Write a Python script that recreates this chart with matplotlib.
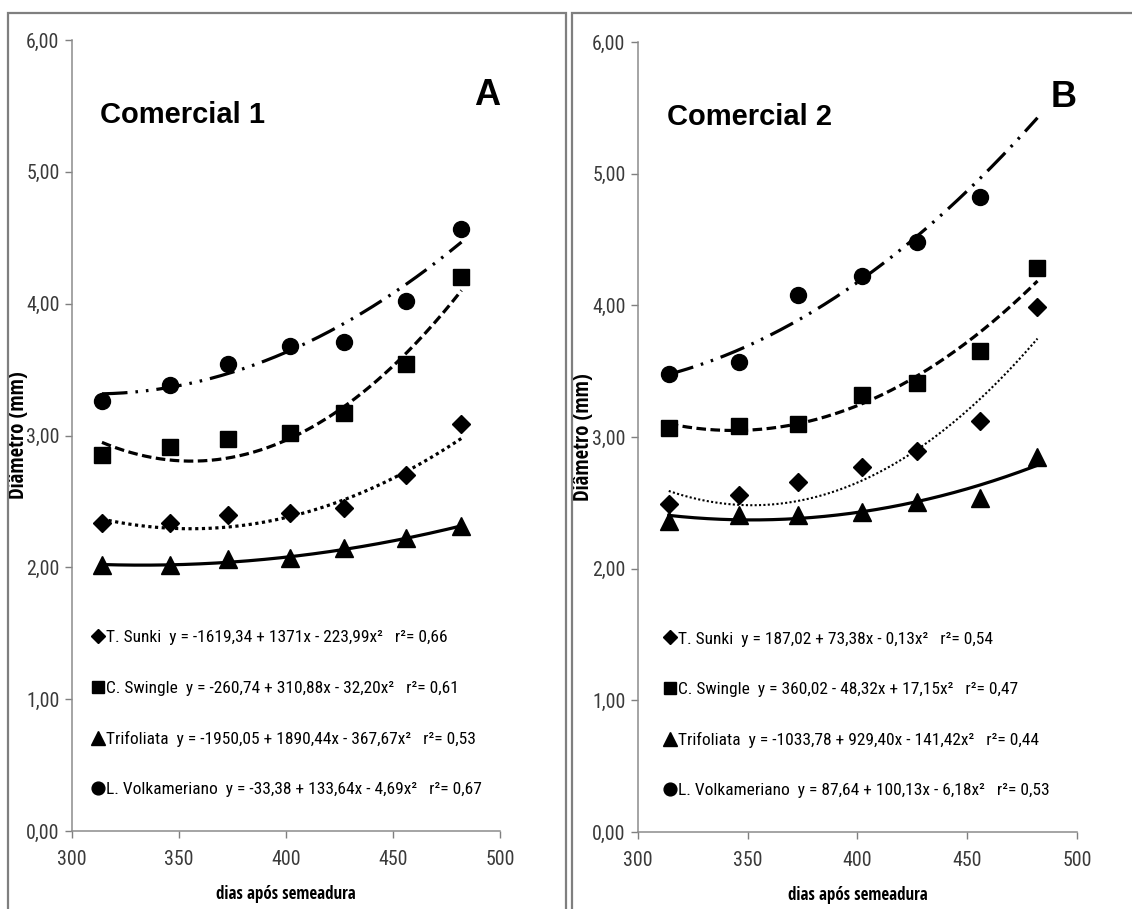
import numpy as np
import matplotlib.pyplot as plt
import matplotlib.font_manager as fm
from matplotlib.font_manager import FontProperties
from matplotlib.lines import Line2D
from matplotlib.patches import Rectangle

dias = [314, 346, 373, 402, 427, 456, 482]

# Comercial 1 (A)
sunki_a = [2.34, 2.34, 2.40, 2.41, 2.45, 2.70, 3.09]
swingle_a = [2.85, 2.91, 2.97, 3.02, 3.17, 3.54, 4.20]
trifol_a = [2.02, 2.02, 2.06, 2.07, 2.15, 2.22, 2.31]
volk_a = [3.26, 3.38, 3.54, 3.68, 3.71, 4.02, 4.57]
# linhas de tendência
t_sunki_a = [2.36, 2.30, 2.31, 2.40, 2.51, 2.69, 3.00]
t_swingle_a = [2.93, 2.84, 2.85, 2.95, 3.20, 3.64, 4.10]
t_trifol_a = [2.02, 2.02, 2.04, 2.08, 2.14, 2.21, 2.32]
t_volk_a = [3.32, 3.36, 3.47, 3.65, 3.84, 4.16, 4.46]

# Comercial 2 (B)
sunki_b = [2.49, 2.56, 2.66, 2.77, 2.89, 3.12, 3.99]
swingle_b = [3.07, 3.08, 3.10, 3.32, 3.41, 3.65, 4.28]
trifol_b = [2.36, 2.41, 2.41, 2.43, 2.51, 2.54, 2.85]
volk_b = [3.48, 3.57, 4.08, 4.22, 4.48, 4.82]
t_sunki_b = [2.57, 2.50, 2.53, 2.71, 2.86, 3.24, 3.79]
t_swingle_b = [3.10, 3.05, 3.10, 3.26, 3.46, 3.79, 4.19]
t_trifol_b = [2.40, 2.38, 2.38, 2.43, 2.51, 2.63, 2.79]
t_volk_b = [3.48, 3.66, 3.88, 4.20, 4.53, 4.97, 5.42]

leg_a = ["T. Sunki  y = -1619,34 + 1371x - 223,99x²   r²= 0,66",
         "C. Swingle  y = -260,74 + 310,88x - 32,20x²   r²= 0,61",
         "Trifoliata  y = -1950,05 + 1890,44x - 367,67x²   r²= 0,53",
         "L. Volkameriano  y = -33,38 + 133,64x - 4,69x²   r²= 0,67"]
leg_b = ["T. Sunki  y = 187,02 + 73,38x - 0,13x²   r²= 0,54",
         "C. Swingle  y = 360,02 - 48,32x + 17,15x²   r²= 0,47",
         "Trifoliata  y = -1033,78 + 929,40x - 141,42x²   r²= 0,44",
         "L. Volkameriano  y = 87,64 + 100,13x - 6,18x²   r²= 0,53"]
yticks_txt = ["0,00", "1,00", "2,00", "3,00", "4,00", "5,00", "6,00"]

marcadores = ['D', 's', '^', 'o']
tamanhos = [9.5, 11, 12.5, 11.5]
estilos = [(0, (1, 1.1)), (0, (3, 1.4)), '-', (0, (8, 2.5, 0.8, 2.5, 0.8, 2.5))]


def peso(f):
    if isinstance(f.weight, int):
        return f.weight
    return {'normal': 400, 'regular': 400, 'bold': 700}.get(f.weight, 400)


def fichier(candidatos, p):
    for cand in candidatos:
        for f in fm.fontManager.ttflist:
            if f.name == cand and peso(f) == p and f.style == 'normal':
                return f.fname
    return None


# fonte estreita parecida com a do Excel
f_reg = fichier(['Roboto Condensed', 'Asap Condensed', 'Sofia Sans Condensed', 'Saira SemiCondensed',
                 'Archivo Narrow', 'Liberation Sans Narrow'], 400)
f_bold = fichier(['Open Sans Condensed', 'Roboto Condensed', 'Asap Condensed', 'Saira SemiCondensed'], 700)


def prop(fname, familia, tam):
    if fname:
        return FontProperties(fname=fname, size=tam)
    return FontProperties(family=familia, size=tam)


fig = plt.figure(figsize=(11.32, 9.09), dpi=100)
renderer = fig.canvas.get_renderer()


def taille(texte, largeur, fname, familia, maxi=15):
    fp = prop(fname, familia, 10)
    w, h, d = renderer.get_text_width_height_descent(texte, fp, ismath=False)
    return min(maxi, 10 * largeur / w)


fs_leg = taille(leg_a[0], 340, f_reg, 'Liberation Sans')
fs_tick = taille("6,00", 33, f_reg, 'Liberation Sans')
fs_xlab = taille("dias após semeadura", 140, f_bold, 'Liberation Sans')
fs_ylab = taille("Diâmetro (mm)", 138, f_bold, 'Liberation Sans')
p_leg = prop(f_reg, 'Liberation Sans', fs_leg)
p_tick = prop(f_reg, 'Liberation Sans', fs_tick)
p_xlab = prop(f_bold, 'Liberation Sans', fs_xlab)
p_ylab = prop(f_bold, 'Liberation Sans', fs_ylab)
if not f_bold:
    p_xlab.set_weight('bold')
    p_ylab.set_weight('bold')
fs_px = fs_leg * 100 / 72

fig.patches.append(Rectangle((8 / 1132, -0.05), 558 / 1132, 1 - 13 / 909 + 0.05,
                             transform=fig.transFigure, fill=False, ec='#7f7f7f', lw=1.6))
fig.patches.append(Rectangle((572 / 1132, -0.05), 0.6, 1 - 13 / 909 + 0.05,
                             transform=fig.transFigure, fill=False, ec='#7f7f7f', lw=1.6))

ax_a = fig.add_axes([72 / 1132, 1 - 831 / 909, 428 / 1132, 791 / 909])
ax_b = fig.add_axes([638 / 1132, 1 - 832 / 909, 439 / 1132, 790 / 909])

paineis = [
    (ax_a, [sunki_a, swingle_a, trifol_a, volk_a], [t_sunki_a, t_swingle_a, t_trifol_a, t_volk_a],
     leg_a, "Comercial 1", "A", 0.05, [2.3, 2.3, 2.3, 2.3]),
    (ax_b, [sunki_b, swingle_b, trifol_b, volk_b], [t_sunki_b, t_swingle_b, t_trifol_b, t_volk_b],
     leg_b, "Comercial 2", "B", 0.063, [1.5, 2.3, 2.3, 2.3]),
]

xx = np.linspace(dias[0], dias[-1], 200)
for ax, series, trends, labels, titulo, letra, lx, larguras in paineis:
    handles = []
    for s, t, m, ms, ls, lw in zip(series, trends, marcadores, tamanhos, estilos, larguras):
        coef = np.polyfit(dias, t, 2)
        ax.plot(xx, np.polyval(coef, xx), color='black', lw=lw, linestyle=ls, zorder=2)
        ax.plot(dias[:len(s)], s, linestyle='none', marker=m, ms=ms, color='black', zorder=3)
        handles.append(Line2D([], [], linestyle='none', marker=m, ms=ms * 0.8, color='black'))
    ax.legend(handles, labels, loc='upper left', bbox_to_anchor=(lx, 0.254), frameon=False,
              prop=p_leg, handlelength=0.5, handletextpad=0.2,
              labelspacing=(51.5 - (1.15 * fs_px - 3.7)) / fs_px,
              borderpad=0, borderaxespad=0)

    ax.set_xlim(300, 500)
    ax.set_ylim(0, 6)
    ax.set_xticks([300, 350, 400, 450, 500])
    ax.set_yticks([0, 1, 2, 3, 4, 5, 6])
    ax.set_yticklabels(yticks_txt)
    ax.tick_params(colors='#7f7f7f', labelcolor='#3a3a3a', length=5, width=1)
    ax.tick_params(axis='x', pad=9)
    ax.tick_params(axis='y', pad=4)
    for lbl in ax.get_xticklabels() + ax.get_yticklabels():
        lbl.set_fontproperties(p_tick)
    for lado in ['top', 'right']:
        ax.spines[lado].set_visible(False)
    for lado in ['left', 'bottom']:
        ax.spines[lado].set_color('#8c8c8c')
        ax.spines[lado].set_linewidth(1.1)

    ax.set_ylabel("Diâmetro (mm)", fontproperties=p_ylab)
    ax.yaxis.set_label_coords(-0.1, 0.5)
    ax.set_xlabel("dias após semeadura", fontproperties=p_xlab)
    ax.xaxis.set_label_coords(0.5, -0.068)

    ax.text(0.065, 0.905, titulo, transform=ax.transAxes, family='Liberation Sans',
            fontsize=21, fontweight='bold', va='center', ha='left')
    ax.text(1.0, 0.93, letra, transform=ax.transAxes, family='Liberation Sans',
            fontsize=26, fontweight='bold', va='center', ha='right')

fig.savefig("out.png", dpi=100)
